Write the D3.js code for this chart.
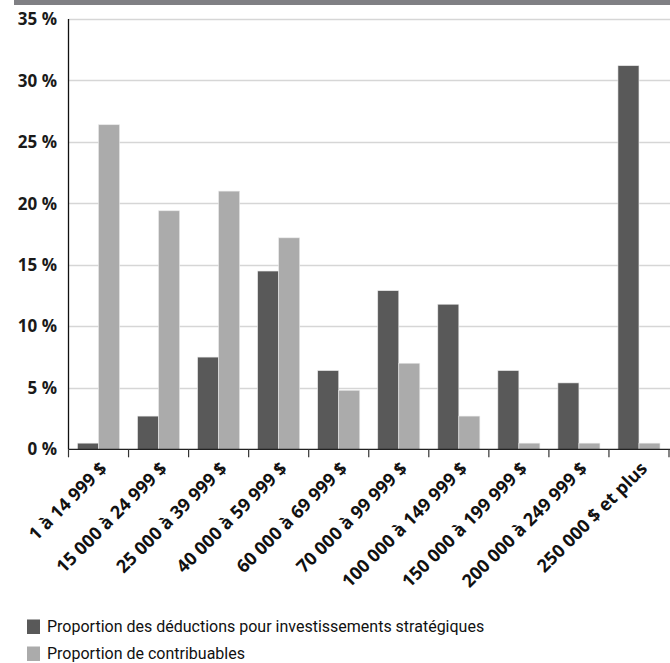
<!DOCTYPE html>
<html><head><meta charset="utf-8">
<script src="https://cdn.jsdelivr.net/npm/d3@7"></script>
<style>body{margin:0;background:#fff}svg{display:block}</style>
</head><body>
<svg id="c" width="670" height="663"></svg>
<script>
const categories = ["1 à 14 999 $","15 000 à 24 999 $","25 000 à 39 999 $","40 000 à 59 999 $","60 000 à 69 999 $","70 000 à 99 999 $","100 000 à 149 999 $","150 000 à 199 999 $","200 000 à 249 999 $","250 000 $ et plus"];
const deductions = [0.5, 2.7, 7.5, 14.5, 6.4, 12.9, 11.8, 6.4, 5.4, 31.2];
const contribuables = [26.4, 19.4, 21.0, 17.2, 4.8, 7.0, 2.7, 0.5, 0.5, 0.5];
const seriesNames = ["Proportion des déductions pour investissements stratégiques","Proportion de contribuables"];
const yTicks = [0,5,10,15,20,25,30,35];
const colors = ["#595959","#ababab"];

(function(){
const svg = d3.select("#c");
const pL = 68.5, pR = 669, pT = 19, pB = 449.3;
const font = "'Open Sans', sans-serif";

svg.append("rect").attr("x",14).attr("y",0).attr("width",656).attr("height",5).attr("fill","#808084");

const x = d3.scaleBand().domain(categories).range([pL,pR]).paddingInner(0.3).paddingOuter(0.15);
const xs = d3.scaleBand().domain([0,1]).range([0,x.bandwidth()]);
const y = d3.scaleLinear().domain([0,35]).range([pB,pT]);

svg.append("g").selectAll("line").data(yTicks.filter(d=>d>0)).join("line")
  .attr("x1",pL).attr("x2",670).attr("y1",d=>Math.round(y(d))+0.5).attr("y2",d=>Math.round(y(d))+0.5)
  .attr("stroke","#d6d6d6").attr("stroke-width",1.4);

svg.append("g").selectAll("text").data(yTicks).join("text")
  .attr("x",57).attr("y",d=>y(d)).attr("dy","0.36em").attr("text-anchor","end")
  .attr("font-family",font).attr("font-weight","bold").attr("font-size",17).attr("fill","#1a1a1a")
  .text(d=>d+" %");

const series = [deductions, contribuables];
series.forEach((vals,i)=>{
  svg.append("g").selectAll("rect").data(vals).join("rect")
    .attr("x",(d,j)=>x(categories[j])+xs(i)).attr("width",xs.bandwidth())
    .attr("y",d=>y(d)).attr("height",d=>y(0)-y(d))
    .attr("fill",colors[i]).attr("stroke","#e8e8e8").attr("stroke-width",0.6);
});

svg.append("line").attr("x1",pL).attr("x2",pL).attr("y1",pT).attr("y2",pB).attr("stroke","#111").attr("stroke-width",1.3);
svg.append("line").attr("x1",pL).attr("x2",670).attr("y1",pB).attr("y2",pB).attr("stroke","#222").attr("stroke-width",1.3);
const bounds = categories.map(c=>x(c)-x.step()*x.paddingInner()/2).concat([pR]);
svg.append("g").selectAll("line").data(bounds).join("line")
  .attr("x1",d=>d).attr("x2",d=>d).attr("y1",pB).attr("y2",pB+8).attr("stroke","#333").attr("stroke-width",1.2);

svg.append("g").selectAll("text").data(categories).join("text")
  .attr("transform",d=>`translate(${x(d)+x.bandwidth()/2+5},${pB+16}) rotate(-45)`)
  .attr("text-anchor","end").attr("dy","0.35em")
  .attr("font-family",font).attr("font-weight","bold").attr("font-size",18).attr("fill","#111")
  .text(d=>d);

const lg = svg.append("g");
seriesNames.forEach((n,i)=>{
  lg.append("rect").attr("x",27).attr("y",619.5+i*27).attr("width",13).attr("height",14.5).attr("fill",colors[i]);
  lg.append("text").attr("x",47).attr("y",626.5+i*27).attr("dy","0.35em")
    .attr("font-family","Roboto, sans-serif").attr("font-size",16).attr("fill","#111").text(n);
});
})();
</script>
</body></html>
